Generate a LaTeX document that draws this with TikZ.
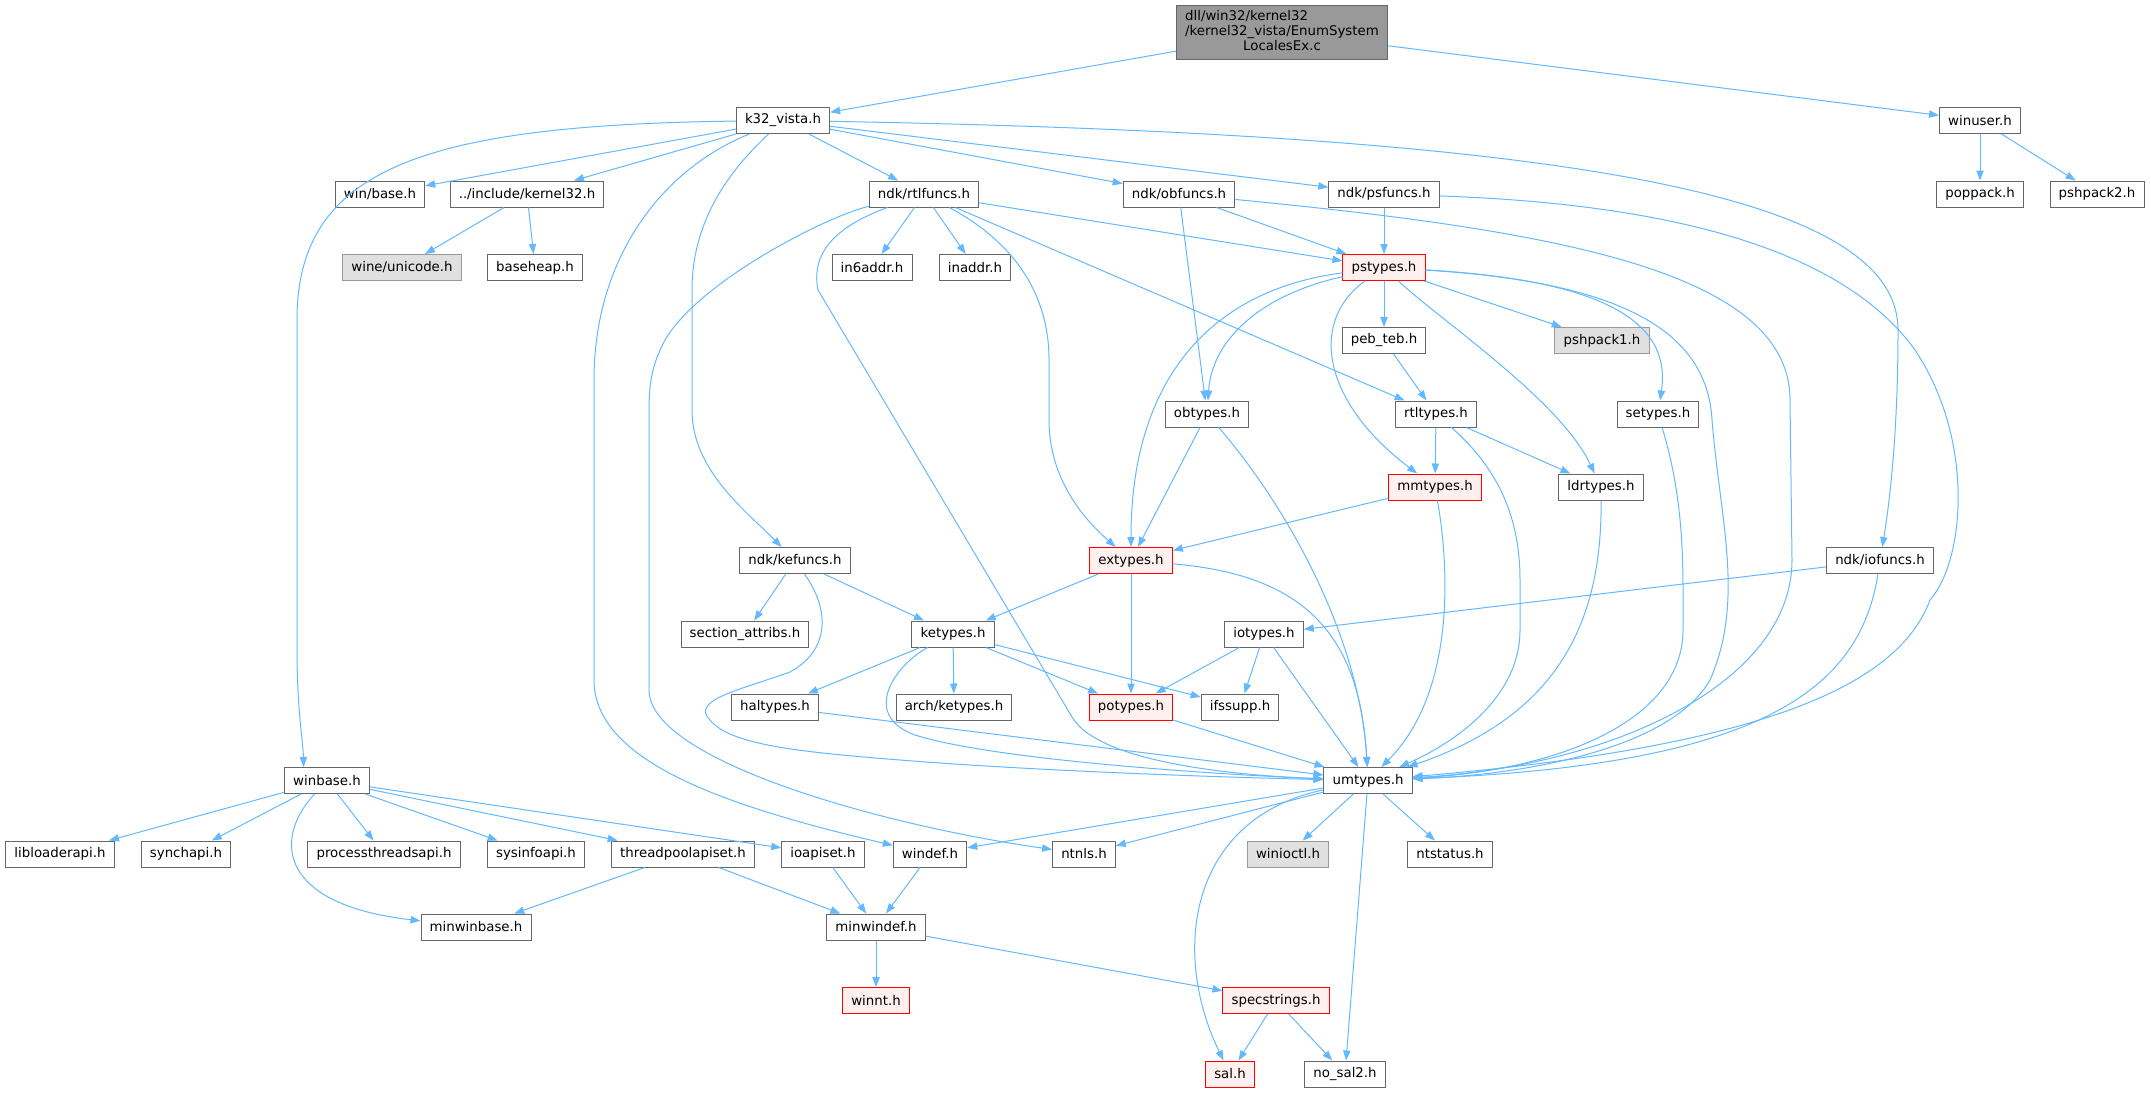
\documentclass[tikz,border=0pt]{standalone}
\usepackage{fontspec}
\setmainfont{DejaVu Sans}
\usetikzlibrary{arrows.meta}
\usetikzlibrary{graphs}

\definecolor{edgeblue}{HTML}{63B8FF}
\definecolor{nodeline}{HTML}{666666}
\definecolor{extline}{HTML}{999999}
\definecolor{extfill}{HTML}{E0E0E0}
\definecolor{hotline}{HTML}{FF0000}
\definecolor{hotfill}{HTML}{FFF0F0}
\definecolor{rootfill}{HTML}{999999}

\begin{document}
\begin{tikzpicture}[x=0.75pt, y=-0.75pt,
	hdr/.style={draw=nodeline, fill=white, line width=0.75pt, inner xsep=6.5pt, inner ysep=0pt, minimum height=19.5pt, font=\fontsize{10}{11.5}\selectfont},
	ext/.style={hdr, draw=extline, fill=extfill},
	hot/.style={hdr, draw=hotline, fill=hotfill},
	rootbox/.style={hdr, fill=rootfill, minimum height=41pt},
	dep/.style={draw=edgeblue, line width=0.75pt, ->},
	>={Triangle[length=7.5pt, width=5.5pt]}]
								\useasboundingbox (0,0) rectangle (2151,1092);

								%headers, row by row
								\node[rootbox] (root) at (1282,32.5) {\begin{tabular}{@{}l@{}}dll/win32/kernel32\\/kernel32\_vista/EnumSystem\\\multicolumn{1}{@{}c@{}}{LocalesEx.c}\end{tabular}};
								\node[hdr] (k32) at (783,120.5) {k32\_vista.h};
								\node[hdr] (winuser) at (1980,120.5) {winuser.h};

								\node[hdr] (winbaseh) at (380,194) {win/base.h};
								\node[hdr] (kernel32) at (527,194) {../include/kernel32.h};
								\node[hdr] (rtlfuncs) at (924,194) {ndk/rtlfuncs.h};
								\node[hdr] (obfuncs) at (1179,194) {ndk/obfuncs.h};
								\node[hdr] (psfuncs) at (1384,194) {ndk/psfuncs.h};
								\node[hdr] (poppack) at (1980,194) {poppack.h};
								\node[hdr] (pshpack2) at (2097,194) {pshpack2.h};

								\node[ext] (unicode) at (402,267.5) {wine/unicode.h};
								\node[hdr] (baseheap) at (535,267.5) {baseheap.h};
								\node[hdr] (in6addr) at (872,267.5) {in6addr.h};
								\node[hdr] (inaddr) at (975,267.5) {inaddr.h};
								\node[hot] (pstypes) at (1384,267.5) {pstypes.h};

								\node[hdr] (pebteb) at (1384,340.5) {peb\_teb.h};
								\node[ext] (pshpack1) at (1602,340.5) {pshpack1.h};

								\node[hdr] (obtypes) at (1207,414) {obtypes.h};
								\node[hdr] (rtltypes) at (1436,414) {rtltypes.h};
								\node[hdr] (setypes) at (1658,414) {setypes.h};

								\node[hot] (mmtypes) at (1435,487) {mmtypes.h};
								\node[hdr] (ldrtypes) at (1601,487) {ldrtypes.h};

								\node[hdr] (kefuncs) at (795,560.5) {ndk/kefuncs.h};
								\node[hot] (extypes) at (1131,560.5) {extypes.h};
								\node[hdr] (iofuncs) at (1880,560.5) {ndk/iofuncs.h};

								\node[hdr] (secattr) at (745,634) {section\_attribs.h};
								\node[hdr] (ketypes) at (953,634) {ketypes.h};
								\node[hdr] (iotypes) at (1264,634) {iotypes.h};

								\node[hdr] (haltypes) at (775,707) {haltypes.h};
								\node[hdr] (archketypes) at (954,707) {arch/ketypes.h};
								\node[hot] (potypes) at (1131,707) {potypes.h};
								\node[hdr] (ifssupp) at (1240,707) {ifssupp.h};

								\node[hdr] (winbase) at (327,780.5) {winbase.h};
								\node[hdr] (umtypes) at (1368,780.5) {umtypes.h};

								\node[hdr] (libloader) at (60,854) {libloaderapi.h};
								\node[hdr] (synchapi) at (186,854) {synchapi.h};
								\node[hdr] (procthread) at (384,854) {processthreadsapi.h};
								\node[hdr] (sysinfo) at (536,854) {sysinfoapi.h};
								\node[hdr] (threadpool) at (683,854) {threadpoolapiset.h};
								\node[hdr] (ioapiset) at (823,854) {ioapiset.h};
								\node[hdr] (windef) at (930,854) {windef.h};
								\node[hdr] (ntnls) at (1084,854) {ntnls.h};
								\node[ext] (winioctl) at (1288,854) {winioctl.h};
								\node[hdr] (ntstatus) at (1450,854) {ntstatus.h};

								\node[hdr] (minwinbase) at (476,927) {minwinbase.h};
								\node[hdr] (minwindef) at (876,927) {minwindef.h};

								\node[hot] (winnt) at (876,1000.5) {winnt.h};
								\node[hot] (specstrings) at (1276,1000.5) {specstrings.h};

								\node[hot] (sal) at (1230,1074) {sal.h};
								\node[hdr] (nosal) at (1345,1074) {no\_sal2.h};

								%straight includes
								\graph[edges={dep}] {
									(root) -> (k32); (root) -> (winuser);
									(winuser) -> (poppack); (winuser) -> (pshpack2);
									(k32) -> (winbaseh); (k32) -> (kernel32); (k32) -> (rtlfuncs); (k32) -> (obfuncs); (k32) -> (psfuncs);
									(kernel32) -> (unicode); (kernel32) -> (baseheap);
									(rtlfuncs) -> (in6addr); (rtlfuncs) -> (inaddr); (rtlfuncs) -> (pstypes); (rtlfuncs) -> (rtltypes);
									(obfuncs) -> (pstypes); (obfuncs) -> (obtypes);
									(psfuncs) -> (pstypes);
									(pstypes) -> (pebteb); (pstypes) -> (pshpack1);
									(pebteb) -> (rtltypes);
									(rtltypes) -> (mmtypes); (rtltypes) -> (ldrtypes);
									(mmtypes) -> (extypes); (obtypes) -> (extypes);
									(extypes) -> (ketypes); (extypes) -> (potypes);
									(iofuncs) -> (iotypes);
									(iotypes) -> (potypes); (iotypes) -> (ifssupp); (iotypes) -> (umtypes);
									(kefuncs) -> (secattr); (kefuncs) -> (ketypes);
									(ketypes) -> (haltypes); (ketypes) -> (archketypes); (ketypes) -> (potypes); (ketypes) -> (ifssupp);
									(haltypes) -> (umtypes); (potypes) -> (umtypes);
									(umtypes) -> (windef); (umtypes) -> (ntnls); (umtypes) -> (winioctl); (umtypes) -> (ntstatus); (umtypes) -> (nosal);
									(winbase) -> (libloader); (winbase) -> (synchapi); (winbase) -> (procthread); (winbase) -> (sysinfo); (winbase) -> (threadpool); (winbase) -> (ioapiset);
									(threadpool) -> (minwinbase); (threadpool) -> (minwindef); (ioapiset) -> (minwindef); (windef) -> (minwindef);
									(minwindef) -> (winnt); (minwindef) -> (specstrings);
									(specstrings) -> (sal); (specstrings) -> (nosal);
									};

								%curved includes
								\draw[dep] (k32) .. controls (1600,135) and (1898,200) .. (1898,330) .. controls (1898,430) and (1890,500) .. (iofuncs);
								\draw[dep] (k32) .. controls (420,125) and (297,170) .. (297,320) -- (297,650) .. controls (297,710) and (303,740) .. (winbase.150);
								\draw[dep] (k32) .. controls (730,170) and (692,220) .. (692,290) -- (692,410) .. controls (692,470) and (745,510) .. (kefuncs);
								\draw[dep] (k32) .. controls (660,170) and (594,260) .. (594,380) -- (594,680) .. controls (594,760) and (720,805) .. (windef);
								\draw[dep] (rtlfuncs) .. controls (1010,240) and (1049,290) .. (1049,360) -- (1049,420) .. controls (1049,480) and (1085,520) .. (extypes);
								\draw[dep] (rtlfuncs) .. controls (840,225) and (810,250) .. (818,290) -- (1072,717) .. controls (1100,765) and (1250,776) .. (umtypes);
								\draw[dep] (rtlfuncs) .. controls (830,215) and (700,280) .. (665,340) .. controls (649,370) and (649,390) .. (649,420) -- (649,690) .. controls (649,760) and (880,825) .. (ntnls);
								\draw[dep] (obfuncs) .. controls (1550,230) and (1790,270) .. (1790,400) -- (1792,560) .. controls (1792,680) and (1620,765) .. (umtypes);
								\draw[dep] (psfuncs) .. controls (1700,205) and (1850,260) .. (1915,350) .. controls (1975,440) and (1965,560) .. (1930,600) .. controls (1900,680) and (1780,745) .. (umtypes);
								\draw[dep] (pstypes) .. controls (1260,295) and (1212,340) .. (obtypes);
								\draw[dep] (pstypes) .. controls (1210,290) and (1131,380) .. (extypes);
								\draw[dep] (pstypes) .. controls (1310,320) and (1320,400) .. (mmtypes);
								\draw[dep] (pstypes) .. controls (1440,320) and (1560,400) .. (ldrtypes);
								\draw[dep] (pstypes) .. controls (1600,280) and (1672,320) .. (setypes);
								\draw[dep] (pstypes) .. controls (1620,282) and (1707,330) .. (1712,420) .. controls (1720,520) and (1745,600) .. (1710,680) .. controls (1670,750) and (1520,775) .. (umtypes);
								\draw[dep] (rtltypes) .. controls (1500,470) and (1520,520) .. (1520,580) -- (1520,630) .. controls (1520,700) and (1450,745) .. (umtypes);
								\draw[dep] (setypes) .. controls (1678,480) and (1683,530) .. (1683,590) -- (1683,630) .. controls (1683,720) and (1560,770) .. (umtypes);
								\draw[dep] (ldrtypes) .. controls (1602,620) and (1560,715) .. (umtypes);
								\draw[dep] (mmtypes) .. controls (1448,560) and (1458,690) .. (umtypes);
								\draw[dep] (obtypes) .. controls (1290,510) and (1360,640) .. (umtypes);
								\draw[dep] (extypes) .. controls (1310,575) and (1360,640) .. (umtypes);
								\draw[dep] (iofuncs) .. controls (1860,690) and (1760,765) .. (umtypes);
								\draw[dep] (kefuncs) .. controls (830,610) and (830,650) .. (790,672) .. controls (740,690) and (690,700) .. (710,720) .. controls (730,745) and (800,752) .. (900,760) .. controls (1050,772) and (1250,778) .. (umtypes);
								\draw[dep] (ketypes) .. controls (895,665) and (860,715) .. (915,735) .. controls (1000,762) and (1250,776) .. (umtypes);
								\draw[dep] (umtypes) .. controls (1190,818) and (1170,950) .. (sal);
								\draw[dep] (winbase) .. controls (272,840) and (280,905) .. (minwinbase);

							\end{tikzpicture}
\end{document}
